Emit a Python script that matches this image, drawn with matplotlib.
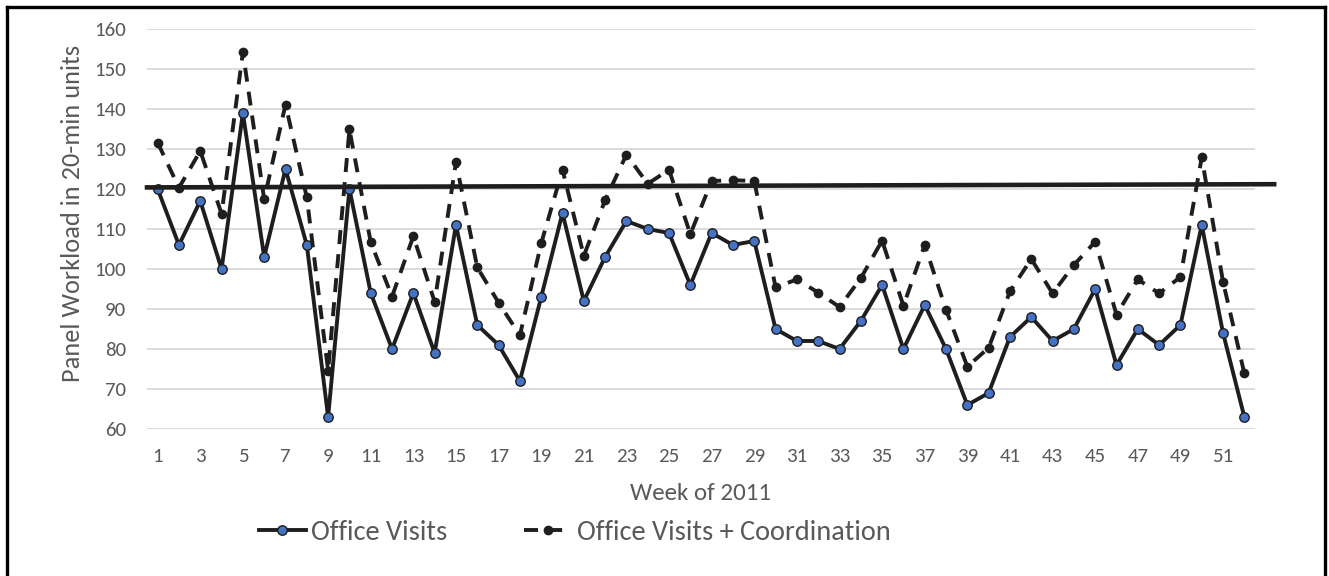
import matplotlib
matplotlib.use("Agg")
import matplotlib.pyplot as plt
from matplotlib.lines import Line2D
from matplotlib import font_manager

# Weekly panel workload (in 20-minute units)
weeks = list(range(1, 53))
office_visits = [120, 106, 117, 100, 139, 103, 125, 106, 63, 120,
                 94, 80, 94, 79, 111, 86, 81, 72, 93, 114,
                 92, 103, 112, 110, 109, 96, 109, 106, 107, 85,
                 82, 82, 80, 87, 96, 80, 91, 80, 66, 69,
                 83, 88, 82, 85, 95, 76, 85, 81, 86, 111,
                 84, 63]
visits_plus_coord = [131.6, 120.3, 129.5, 113.8, 154.2, 117.4, 141.1, 117.9, 74.6, 134.9,
                     106.7, 93.1, 108.2, 91.8, 126.7, 100.4, 91.6, 83.4, 106.4, 124.8,
                     103.3, 117.2, 128.6, 121.3, 124.8, 108.7, 122.0, 122.2, 122.0, 95.4,
                     97.4, 94.1, 90.5, 97.7, 107.1, 90.8, 106.0, 89.8, 75.6, 80.3,
                     94.4, 102.5, 93.9, 101.0, 106.8, 88.6, 97.4, 93.9, 98.0, 127.9,
                     96.8, 73.9]
capacity_start, capacity_end = 120.4, 121.2
y_ticks = [60, 70, 80, 90, 100, 110, 120, 130, 140, 150, 160]
x_ticks = list(range(1, 53, 2))

available = {f.name for f in font_manager.fontManager.ttflist}
family = next((f for f in ["Carlito", "Liberation Sans Narrow", "Lato", "Open Sans", "DejaVu Sans"]
               if f in available), "DejaVu Sans")
plt.rcParams["font.family"] = [family, "DejaVu Sans"]

GRAY = "#595959"
INK = "#1e1e1e"
W, H = 1329, 576
fig = plt.figure(figsize=(W / 100, H / 100), dpi=100)
ax = fig.add_axes([147 / W, 1 - 429 / H, (1255 - 147) / W, (429 - 29) / H])

ax.set_xlim(0.5, 52.5)
ax.set_ylim(60, 160)
ax.set_yticks(y_ticks)
ax.set_xticks(x_ticks)
ax.grid(axis="y", color="#d9d9d9", linewidth=1.3, zorder=0)
ax.set_axisbelow(True)
for s in ax.spines.values():
    s.set_visible(False)
ax.tick_params(axis="both", length=0, labelsize=15, labelcolor=GRAY)
ax.tick_params(axis="y", pad=15)
ax.tick_params(axis="x", pad=14)

ax.plot(weeks, office_visits, color=INK, linewidth=2.8, marker="o",
        markersize=6.8, markerfacecolor="#4472c4", markeredgecolor=INK,
        markeredgewidth=1.0, label="Office Visits", zorder=3)
ax.plot(weeks, visits_plus_coord, color=INK, linewidth=2.8, linestyle=(0, (3.6, 2.6)),
        marker="o", markersize=6.0, markerfacecolor=INK, markeredgecolor=INK,
        label="Office Visits + Coordination", zorder=3)

# capacity reference line, running past the plot edge
ax.plot([0.5, 53.4], [capacity_start, capacity_end], color=INK, linewidth=3.3,
        clip_on=False, zorder=4)

ax.set_xlabel("Week of 2011", fontsize=18, color=GRAY)
ax.set_ylabel("Panel Workload in 20-min units", fontsize=19, color=GRAY)
ax.xaxis.label.set_va("center")
ax.yaxis.label.set_va("center")
ax.xaxis.set_label_coords(0.5, (429 - 494) / 400)
ax.yaxis.set_label_coords((73 - 147) / 1108, 0.54)

leg = fig.legend(loc="center left", bbox_to_anchor=(259 / W, 1 - 532 / H), ncol=2,
                 frameon=False, fontsize=20.4, handlelength=1.65, handletextpad=0.2,
                 columnspacing=2.7, labelcolor=GRAY, borderpad=0, borderaxespad=0)

# outer frame
lw = 2.4
fig.add_artist(Line2D([7 / W, 7 / W], [0, 1 - 7 / H], transform=fig.transFigure,
                      color="black", linewidth=lw))
fig.add_artist(Line2D([7 / W, 1325 / W], [1 - 7 / H, 1 - 7 / H], transform=fig.transFigure,
                      color="black", linewidth=lw))
fig.add_artist(Line2D([1325 / W, 1325 / W], [0, 1 - 7 / H], transform=fig.transFigure,
                      color="black", linewidth=lw))

fig.savefig("out.png", dpi=100)
